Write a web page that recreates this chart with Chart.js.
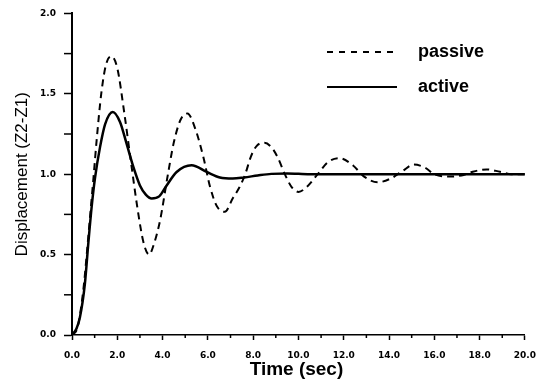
<!DOCTYPE html>
<html>
<head>
<meta charset="utf-8">
<script src="https://cdn.jsdelivr.net/npm/chart.js@4/dist/chart.umd.min.js"></script>
<style>
  html, body { margin: 0; padding: 0; background: #fff; }
  #wrap { width: 546px; height: 381px; }
</style>
</head>
<body>
<div id="wrap"><canvas id="chart"></canvas></div>
<script>
// values
const passiveTime = [0, 0.25, 0.5, 0.65, 0.8, 0.95, 1.1, 1.3, 1.5, 1.73, 2.0, 2.3, 2.6, 2.9, 3.15, 3.4, 3.65, 3.9, 4.2, 4.5, 4.8, 5.1, 5.45, 5.8, 6.1, 6.4, 6.75, 7.1, 7.4, 7.65, 7.9, 8.15, 8.5, 8.85, 9.1, 9.4, 9.7, 10.0, 10.4, 10.85, 11.3, 11.8, 12.4, 12.9, 13.5, 14.1, 14.6, 15.1, 15.6, 16.0, 16.6, 17.3, 17.7, 18.3, 18.9, 19.4, 20.0];
const passiveDisp = [0, 0.05, 0.28, 0.5, 0.74, 0.98, 1.23, 1.51, 1.68, 1.733, 1.66, 1.39, 1.08, 0.78, 0.58, 0.5, 0.58, 0.72, 0.97, 1.2, 1.34, 1.378, 1.28, 1.107, 0.92, 0.8, 0.766, 0.85, 0.92, 1.0, 1.11, 1.175, 1.195, 1.16, 1.1, 1.0, 0.92, 0.89, 0.925, 1.0, 1.075, 1.1, 1.056, 0.985, 0.95, 0.975, 1.02, 1.06, 1.04, 1.0, 0.985, 0.995, 1.015, 1.03, 1.015, 1.0, 1.0];

const activeTime = [0, 0.2, 0.35, 0.57, 0.72, 0.87, 1.02, 1.24, 1.46, 1.8, 2.12, 2.41, 2.71, 3.0, 3.25, 3.52, 3.85, 4.18, 4.62, 5.28, 5.95, 6.53, 7.1, 7.6, 8.2, 8.8, 9.5, 10.5, 12.0, 14.0, 16.0, 18.0, 20.0];
const activeDisp = [0, 0.04, 0.11, 0.32, 0.57, 0.8, 0.98, 1.17, 1.31, 1.387, 1.325, 1.19, 1.045, 0.93, 0.875, 0.849, 0.862, 0.93, 1.014, 1.056, 1.014, 0.98, 0.973, 0.98, 0.992, 1.002, 1.005, 1.0, 1.0, 1.0, 1.0, 1.0, 1.0];

const xTicks = [0, 2, 4, 6, 8, 10, 12, 14, 16, 18, 20];
const yTicks = [0, 0.5, 1.0, 1.5, 2.0];
const seriesNames = ['passive', 'active'];
const xTitle = 'Time (sec)';

const FONT = '"Liberation Sans", Arial, sans-serif';
const TICK_FONT = '"DejaVu Sans", sans-serif';

const toPoints = (ts, vs) => ts.map((t, i) => ({ x: t, y: vs[i] }));

// minor ticks, x title and the legend in the upper right
const extras = {
  id: 'extras',
  afterDraw(chart) {
    const { ctx, scales: { x, y }, chartArea } = chart;
    ctx.save();
    ctx.strokeStyle = '#000';
    ctx.lineWidth = 1.5;
    for (let t = 1; t < 20; t += 2) {
      const px = x.getPixelForValue(t);
      ctx.beginPath();
      ctx.moveTo(px, chartArea.bottom);
      ctx.lineTo(px, chartArea.bottom + 3);
      ctx.stroke();
    }
    for (let v = 0.25; v < 2; v += 0.5) {
      const py = y.getPixelForValue(v);
      ctx.beginPath();
      ctx.moveTo(chartArea.left, py);
      ctx.lineTo(chartArea.left - 8, py);
      ctx.stroke();
    }

    ctx.fillStyle = '#000';
    ctx.font = 'bold 19px ' + FONT;
    ctx.textAlign = 'center';
    ctx.textBaseline = 'middle';
    ctx.fillText(xTitle, (chartArea.left + chartArea.right) / 2 - 2, chartArea.bottom + 35);
    ctx.restore();

    ctx.save();
    ctx.font = 'bold 18px ' + FONT;
    ctx.textAlign = 'left';
    ctx.textBaseline = 'middle';
    chart.data.datasets.forEach((ds, i) => {
      const ly = 52 + i * 35;
      ctx.strokeStyle = '#000';
      ctx.lineWidth = 2;
      ctx.setLineDash(ds.borderDash ? [6, 6] : []);
      ctx.beginPath();
      ctx.moveTo(327, ly);
      ctx.lineTo(397, ly);
      ctx.stroke();
      ctx.fillStyle = '#000';
      ctx.fillText(ds.label, 418, ly);
    });
    ctx.restore();
  }
};

new Chart(document.getElementById('chart'), {
  type: 'line',
  data: {
    datasets: [
      {
        label: seriesNames[0],
        data: toPoints(passiveTime, passiveDisp),
        borderColor: '#000',
        borderWidth: 2,
        borderDash: [7, 5],
        pointRadius: 0,
        cubicInterpolationMode: 'monotone',
        fill: false
      },
      {
        label: seriesNames[1],
        data: toPoints(activeTime, activeDisp),
        borderColor: '#000',
        borderWidth: 2.5,
        pointRadius: 0,
        cubicInterpolationMode: 'monotone',
        fill: false
      }
    ]
  },
  options: {
    responsive: true,
    maintainAspectRatio: false,
    animation: false,
    layout: { padding: { left: 4, right: 21, top: 13, bottom: 0 } },
    plugins: { legend: { display: false }, tooltip: { enabled: false } },
    scales: {
      x: {
        type: 'linear',
        min: 0,
        max: 20,
        afterBuildTicks: s => { s.ticks = xTicks.map(v => ({ value: v })); },
        afterFit: s => { s.height = 46; },
        ticks: {
          color: '#000',
          font: { family: TICK_FONT, size: 9, weight: 'bold' },
          padding: 10,
          maxRotation: 0,
          callback: v => v.toFixed(1)
        },
        grid: { drawOnChartArea: false, tickLength: 5, tickColor: '#000', tickWidth: 1.5 },
        border: { color: '#000', width: 1.5 }
      },
      y: {
        min: 0,
        max: 2,
        afterBuildTicks: s => { s.ticks = yTicks.map(v => ({ value: v })); },
        afterFit: s => { s.width = 68; },
        ticks: {
          color: '#000',
          font: { family: TICK_FONT, size: 9, weight: 'bold' },
          padding: 8,
          callback: v => v.toFixed(1)
        },
        grid: { drawOnChartArea: false, tickLength: 8, tickColor: '#000', tickWidth: 1.5 },
        border: { color: '#000', width: 2 },
        title: {
          display: true,
          text: 'Displacement (Z2-Z1)',
          color: '#000',
          font: { family: FONT, size: 17 },
          padding: { top: 8, bottom: 0 }
        }
      }
    }
  },
  plugins: [extras]
});
</script>
</body>
</html>
